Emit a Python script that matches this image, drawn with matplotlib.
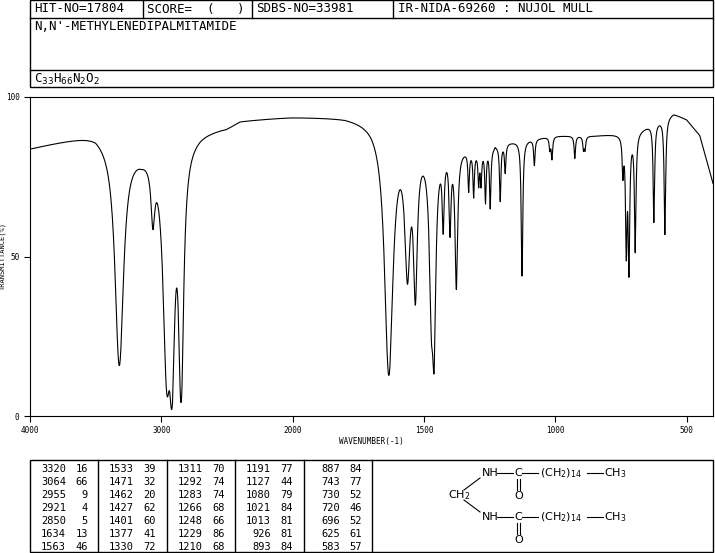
import numpy as np
import matplotlib
matplotlib.use("Agg")
import matplotlib.pyplot as plt

W, H = 715, 553
FONT = "DejaVu Sans Mono"

# peak table (wavenumber, %T)
peak_wn = [3320, 3064, 2955, 2921, 2850, 1634, 1563, 1533, 1471, 1462, 1427, 1401, 1377, 1330,
           1311, 1292, 1283, 1266, 1248, 1229, 1210, 1191, 1127, 1080, 1021, 1013, 926, 893,
           887, 743, 730, 720, 696, 625, 583]
peak_t = [16, 66, 9, 4, 5, 13, 46, 39, 32, 20, 62, 60, 41, 72,
          70, 74, 74, 68, 66, 86, 68, 77, 44, 79, 84, 81, 81, 84,
          84, 77, 52, 46, 52, 61, 57]
peak_w = [26, 16, 20, 12, 12, 12, 10, 7, 7, 5, 4, 4, 5, 3,
          3, 3, 3, 3, 3, 3, 3, 3, 3, 3, 3, 3, 3, 3,
          3, 3, 3, 3, 3, 3, 3]
# baseline of the spectrum (increasing wavenumber)
base_wn = [400, 450, 500, 550, 600, 700, 850, 1000, 1200, 1300, 1500, 1600, 1700, 1800,
           2000, 2400, 2500, 2700, 3000, 3150, 3500, 3700, 4000]
base_t = [73, 88, 93, 95, 93, 89, 88, 88, 86, 84, 87, 90, 93, 94,
          94, 93, 91, 90, 87, 84, 89, 87, 84]

table_cols = [
    [("3320", "16"), ("3064", "66"), ("2955", "9"), ("2921", "4"), ("2850", "5"), ("1634", "13"), ("1563", "46")],
    [("1533", "39"), ("1471", "32"), ("1462", "20"), ("1427", "62"), ("1401", "60"), ("1377", "41"), ("1330", "72")],
    [("1311", "70"), ("1292", "74"), ("1283", "74"), ("1266", "68"), ("1248", "66"), ("1229", "86"), ("1210", "68")],
    [("1191", "77"), ("1127", "44"), ("1080", "79"), ("1021", "84"), ("1013", "81"), ("926", "81"), ("893", "84")],
    [("887", "84"), ("743", "77"), ("730", "52"), ("720", "46"), ("696", "52"), ("625", "61"), ("583", "57")],
]


def fwd(x):
    x = np.asarray(x, float)
    return np.where(x <= 2000, x, 2000 + (x - 2000) * 0.5)


def inv(u):
    u = np.asarray(u, float)
    return np.where(u <= 2000, u, 2000 + (u - 2000) * 2)


wn = np.linspace(400, 4000, 8000)
base = np.interp(wn, base_wn, base_t)
absorb = np.zeros_like(wn)
for c, t, w in zip(peak_wn, peak_t, peak_w):
    b = np.interp(c, base_wn, base_t)
    a = np.log10(b / t)
    absorb += a / (1 + ((wn - c) / w) ** 2)
trans = base * 10 ** (-absorb)

fig = plt.figure(figsize=(W / 100, H / 100), dpi=100)


def fx(px):
    return px / W


def fy(py):
    return 1 - py / H


# header + table drawn in pixel coordinates
ov = fig.add_axes([0, 0, 1, 1])
ov.set_xlim(0, W)
ov.set_ylim(H, 0)
ov.axis("off")
lw = 1.0
ov.add_patch(plt.Rectangle((30, 0), 683, 87, fill=False, lw=lw))
ov.plot([30, 713], [18, 18], "k-", lw=lw)
ov.plot([30, 713], [70, 70], "k-", lw=lw)
for xx in [143, 252, 393]:
    ov.plot([xx, xx], [0, 18], "k-", lw=lw)
ov.text(34, 9, "HIT-NO=17804", va="center", family=FONT, fontsize=9)
ov.text(147, 9, "SCORE=  (   )", va="center", family=FONT, fontsize=9)
ov.text(256, 9, "SDBS-NO=33981", va="center", family=FONT, fontsize=9)
ov.text(398, 9, "IR-NIDA-69260 : NUJOL MULL", va="center", family=FONT, fontsize=9)
ov.text(34, 27, "N,N'-METHYLENEDIPALMITAMIDE", va="center", family=FONT, fontsize=9)
ov.text(34, 79, r"C$_{33}$H$_{66}$N$_2$O$_2$", va="center", family=FONT, fontsize=9)

ov.add_patch(plt.Rectangle((30, 460), 683, 92, fill=False, lw=lw))
for xx in [98, 167, 235, 304, 372]:
    ov.plot([xx, xx], [460, 552], "k-", lw=lw)
col_x = [30, 98, 167, 235, 304]
for cx, col in zip(col_x, table_cols):
    for i, (a, b) in enumerate(col):
        yy = 469 + i * 13
        ov.text(cx + 36, yy, a, ha="right", va="center", family=FONT, fontsize=7.5)
        ov.text(cx + 58, yy, b, ha="right", va="center", family=FONT, fontsize=7.5)

# structure
sf = dict(va="center", family="DejaVu Sans", fontsize=8)
for yy in [473, 517]:
    ov.text(482, yy, "NH", **sf)
    ov.plot([497, 513], [yy, yy], "k-", lw=0.8)
    ov.text(514, yy, "C", **sf)
    ov.plot([522, 538], [yy, yy], "k-", lw=0.8)
    ov.text(540, yy, r"(CH$_2$)$_{14}$", **sf)
    ov.plot([587, 603], [yy, yy], "k-", lw=0.8)
    ov.text(604, yy, r"CH$_3$", **sf)
    ov.plot([517, 517], [yy + 6, yy + 17], "k-", lw=0.8)
    ov.plot([520, 520], [yy + 6, yy + 17], "k-", lw=0.8)
    ov.text(514, yy + 23, "O", **sf)
ov.text(448, 495, r"CH$_2$", **sf)
ov.plot([464, 480], [490, 478], "k-", lw=0.8)
ov.plot([464, 480], [500, 512], "k-", lw=0.8)

# spectrum axes
ax = fig.add_axes([fx(30), fy(416), fx(713) - fx(30), fy(97) - fy(416)])
ax.set_xscale("function", functions=(fwd, inv))
ax.plot(wn, trans, color="black", lw=0.8)
ax.set_xlim(4000, 400)
ax.set_ylim(0, 100)
ax.set_xticks([4000, 3000, 2000, 1500, 1000, 500])
ax.set_xticklabels(["4000", "3000", "2000", "1500", "1000", "500"])
ax.set_yticks([0, 50, 100])
ax.set_yticklabels(["0", "50", "100"])
ax.tick_params(labelsize=5.5, length=4, direction="out", width=0.8)
for lab in ax.get_xticklabels() + ax.get_yticklabels():
    lab.set_family(FONT)
ax.minorticks_off()
ax.set_xlabel("WAVENUMBER(-1)", family=FONT, fontsize=5.5, labelpad=1)
ax.set_ylabel("TRANSMITTANCE(%)", family=FONT, fontsize=5)
ax.yaxis.set_label_coords(-0.035, 0.5)

fig.savefig("out.png", dpi=100, facecolor="white")
